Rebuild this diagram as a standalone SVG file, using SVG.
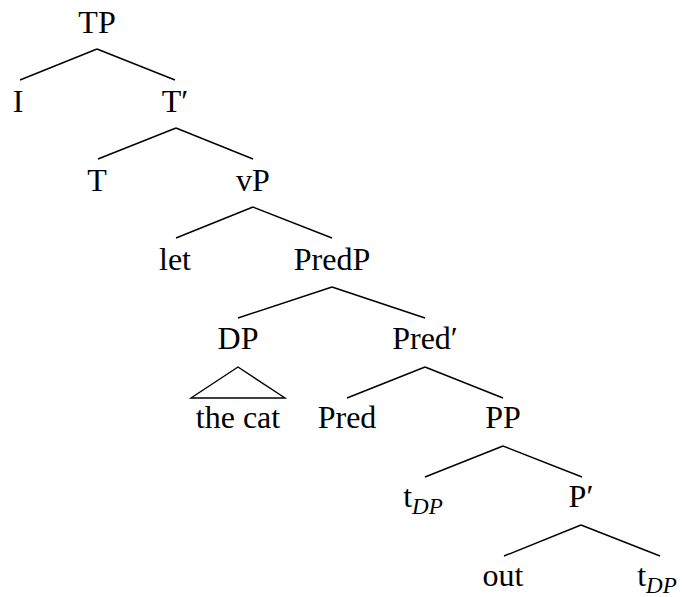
<svg xmlns="http://www.w3.org/2000/svg" width="682" height="597" viewBox="0 0 682 597">
<style>
text{font-family:"Liberation Serif","Times New Roman",serif;font-size:32px;fill:#000;text-anchor:middle}
.sub{font-style:italic;font-size:23px}
.edges line,.edges polygon{stroke:#000;stroke-width:1.4;fill:none}
</style>
<rect width="682" height="597" fill="#fff"/>
<g class="edges" id="connectors">
<line x1="97" y1="49" x2="20" y2="80"/>
<line x1="97" y1="49" x2="175" y2="80"/>
<line x1="176" y1="128" x2="98" y2="159"/>
<line x1="176" y1="128" x2="253" y2="159"/>
<line x1="253" y1="207" x2="176" y2="238"/>
<line x1="253" y1="207" x2="332" y2="238"/>
<line x1="332" y1="287" x2="238" y2="318"/>
<line x1="332" y1="287" x2="425" y2="318"/>
<polygon points="238,367 191,398 285,398"/>
<line x1="425" y1="367" x2="347" y2="398"/>
<line x1="425" y1="367" x2="503" y2="398"/>
<line x1="503" y1="446" x2="425" y2="477"/>
<line x1="503" y1="446" x2="582" y2="477"/>
<line x1="581" y1="525" x2="504" y2="556"/>
<line x1="581" y1="525" x2="660" y2="556"/>
</g>
<g id="n-TP"><text x="97" y="33">TP</text></g>
<g id="n-I"><text x="18" y="112">I</text></g>
<g id="n-T1"><text x="175" y="112">T′</text></g>
<g id="n-T"><text x="97" y="191">T</text></g>
<g id="n-vP"><text x="253" y="191">vP</text></g>
<g id="n-let"><text x="175" y="270">let</text></g>
<g id="n-PredP"><text x="332" y="270">PredP</text></g>
<g id="n-DP"><text x="238" y="349">DP</text></g>
<g id="n-Pred1"><text x="425" y="349">Pred′</text></g>
<g id="n-thecat"><text x="238" y="428">the cat</text></g>
<g id="n-Pred"><text x="347" y="428">Pred</text></g>
<g id="n-PP"><text x="503" y="428">PP</text></g>
<g id="n-tDP1"><text x="423" y="507">t<tspan class="sub" dy="7">DP</tspan></text></g>
<g id="n-P1"><text x="581" y="507">P′</text></g>
<g id="n-out"><text x="503" y="586">out</text></g>
<g id="n-tDP2"><text x="657" y="586">t<tspan class="sub" dy="7">DP</tspan></text></g>
</svg>
